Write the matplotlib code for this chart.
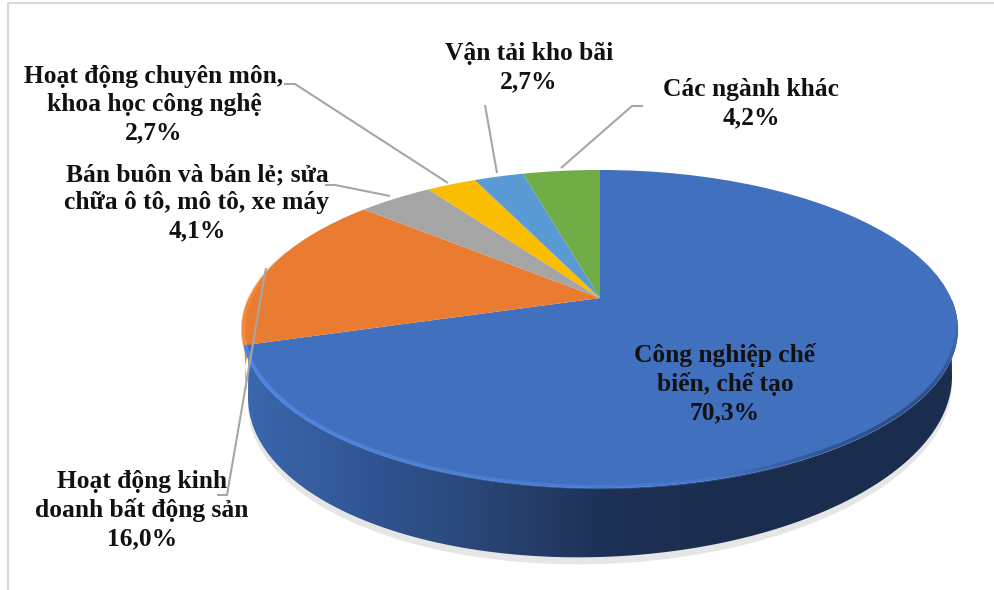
import numpy as np
import matplotlib
matplotlib.use('Agg')
import matplotlib.pyplot as plt
from matplotlib.colors import LinearSegmentedColormap, to_rgb
from matplotlib.collections import LineCollection
from matplotlib.patches import Polygon
from matplotlib.transforms import Transform

# data
names = ['Công nghiệp chế\nbiến, chế tạo', 'Hoạt động kinh\ndoanh bất động sản',
         'Bán buôn và bán lẻ; sửa\nchữa ô tô, mô tô, xe máy',
         'Hoạt động chuyên môn,\nkhoa học công nghệ', 'Vận tải kho bãi', 'Các ngành khác']
values = [70.3, 16.0, 4.1, 2.7, 2.7, 4.2]
value_labels = ['70,3%', '16,0%', '4,1%', '2,7%', '2,7%', '4,2%']
colors = ['#4170BF', '#E97C30', '#A5A5A5', '#FBBD00', '#5B9BD5', '#70AD47']

W, H = 995, 590
CX, CY = 600, 298
K = 0.195


def project(x, y):
    # unit circle to picture pixels, the near edge comes out bigger
    w = 1 + K * y
    return CX + 351 * x / w, CY - 153 * y / w


class Persp(Transform):
    input_dims = 2
    output_dims = 2
    is_separable = False

    def transform_non_affine(self, xy):
        xy = np.asarray(xy, dtype=float)
        return np.column_stack(project(xy[:, 0], xy[:, 1]))


def rim(t1, t2, n=200):
    t = np.radians(np.linspace(t1, t2, n))
    return np.column_stack(project(np.cos(t), np.sin(t)))


def underside(drop=0, n=200):
    # lower edge of the disc, slightly tilted like in the 3d render
    t = np.radians(np.linspace(180, 360, n))
    x = CX + 352 * np.cos(t)
    y = 387 + drop - 170 * np.sin(t) - 0.03 * 352 * np.cos(t)
    return np.column_stack([x, y])


def fade_line(pts, color, alpha, lw, zorder):
    segs = np.stack([pts[:-1], pts[1:]], axis=1)
    rgba = np.zeros((len(segs), 4))
    rgba[:, :3] = to_rgb(color)
    rgba[:, 3] = alpha
    ax.add_collection(LineCollection(segs, colors=rgba, linewidths=lw, zorder=zorder))


fig = plt.figure(figsize=(W / 100, H / 100), dpi=100)
ax = fig.add_axes([0, 0, 1, 1])
wedges, _ = ax.pie(values, colors=colors, startangle=90, counterclock=False,
                   wedgeprops={'linewidth': 0})
ax.set_aspect('auto')
ax.axis('off')

# picture frame
ax.plot([8, 8, W], [H, 3, 3], color='#d9d9d9', lw=1.5, zorder=1)

# soft shadow under the disc
ax.add_patch(Polygon(underside(7), fc='#e6e6e6', ec='none', zorder=1))

# side of the disc, only the front half shows
wall = np.vstack([rim(180, 360), underside()[::-1]])
orange_side = np.vstack([rim(180, 197), rim(197, 180) + [3, 45]])
ax.add_patch(Polygon(orange_side, fc='#F28B3C', ec='none', zorder=2))

wall_cmap = LinearSegmentedColormap.from_list(
    'wall', ['#3B68AE', '#315696', '#2A4677', '#1E3257', '#1B2D4E', '#1B2D4E', '#1B2D4E'])
im = ax.imshow(np.linspace(0, 1, 512).reshape(1, -1), cmap=wall_cmap, aspect='auto',
               extent=(240, 960, 590, 300), zorder=3)
im.set_clip_path(Polygon(wall, transform=ax.transData))

ax.set_xlim(0, W)
ax.set_ylim(H, 0)

# slices on top of the side
for w in wedges:
    w.set_transform(Persp() + ax.transData)
    w.set_zorder(4)
    w.set_clip_on(False)

# lighter bevel along the near rim, fades out to the right
blue_edge = rim(197, 300) + [1, -1]
fade_line(blue_edge, '#5189E2', np.linspace(1, 0, len(blue_edge) - 1) ** 0.6, 3, 5)
orange_edge = rim(160, 197) + [1, 0]
fade_line(orange_edge, '#FF9440', np.linspace(0, 1, len(orange_edge) - 1), 3, 5)
dark_edge = rim(285, 350) + [-1, -2]
fade_line(dark_edge, '#2C4C84', np.sin(np.linspace(0, np.pi, len(dark_edge) - 1)), 2.5, 5)

# leader lines
leaders = [
    ([217, 227, 266], [495, 495, 268]),
    ([325, 335, 390], [185, 185, 196]),
    ([284, 295, 448], [84, 84, 183]),
    ([485, 497], [105, 173]),
    ([643, 632, 561], [106, 106, 168]),
]
for lx, ly in leaders:
    ax.plot(lx, ly, color='#A6A6A6', lw=1.5, zorder=6, solid_capstyle='butt')

# labels, top of each block in pixels
label_pos = [(725, 343), (142, 470), (197, 163), (154, 65), (529, 42), (751, 78)]
font = {'family': ['Liberation Serif', 'DejaVu Serif'], 'fontweight': 'bold',
        'fontsize': 18.4, 'color': '#111111'}
for name, val, (lx, ly) in zip(names, value_labels, label_pos):
    ax.text(lx, ly, name + '\n' + val, ha='center', va='top', linespacing=1.28,
            zorder=7, **font)

fig.savefig('out.png', dpi=100)
